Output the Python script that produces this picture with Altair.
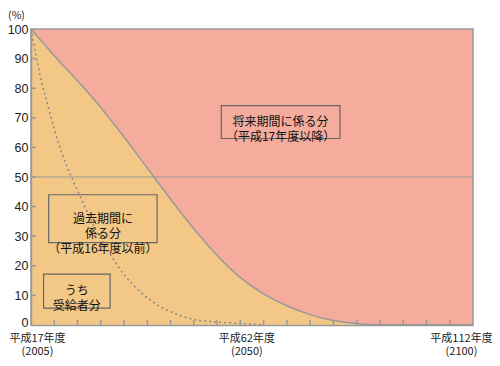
import altair as alt
import pandas as pd

FONT = "Noto Sans CJK JP"
NUMFONT = "Liberation Sans"
PINK = "#F5AC9D"
ORANGE = "#F3C887"
GREY = "#999999"

# total obligation (past-period share boundary), %
total_years = list(range(2005, 2101, 5))
total_vals = [100, 91, 82.5, 73.5, 63.5, 53, 42.5, 32.5, 23.5, 16, 10.5, 6.5, 3.5,
              1.5, 0.5, 0, 0, 0, 0, 0]

# beneficiaries' share (dotted curve)
ben_years = [2005, 2007, 2009, 2011, 2013, 2015, 2017, 2019, 2021, 2023, 2025, 2027,
             2029, 2031, 2033, 2035, 2038, 2041, 2045, 2050, 2055]
ben_vals = [100, 84, 72, 61, 52.5, 45.5, 38.5, 32, 26.5, 21.5, 17, 13.5, 10.5, 8, 6,
            4.5, 2.7, 1.6, 1.0, 0.5, 0.1]

ref_line = [50]
x_minor_ticks = list(range(2010, 2100, 5))
y_ticks = list(range(0, 101, 10))
y_minor_ticks = list(range(10, 100, 10))

label_years = [2005, 2050, 2100]
label_line1 = ["平成17年度", "平成62年度", "平成112年度"]
label_line2 = ["(2005)", "(2050)", "(2100)"]

ann_text = ["将来期間に係る分\n（平成17年度以降）",
            "過去期間に\n係る分\n（平成16年度以前）",
            "うち\n受給者分"]
ann_x1 = [2045.9, 2008.8, 2007.7]
ann_x2 = [2071.4, 2032.1, 2022.0]
ann_y1 = [74.1, 44.0, 17.2]
ann_y2 = [63.0, 27.8, 5.7]

W, H = 442, 296

total_df = pd.DataFrame({"year": total_years, "value": total_vals})
ben_df = pd.DataFrame({"year": ben_years, "value": ben_vals})
ann_df = pd.DataFrame({"text": ann_text, "x1": ann_x1, "x2": ann_x2, "y1": ann_y1, "y2": ann_y2})
ann_df["xm"] = (ann_df.x1 + ann_df.x2) / 2
ann_df["ym"] = (ann_df.y1 + ann_df.y2) / 2

expr = ""
for yv, a, b in zip(label_years, label_line1, label_line2):
    expr += f"datum.value == {yv} ? ['{a}','{b}'] : "
expr += "''"

xs = alt.Scale(domain=[2005, 2100], nice=False, zero=False)
ys = alt.Scale(domain=[0, 100], nice=False)

xaxis = alt.Axis(values=label_years, labelExpr=expr, title=None, grid=False, tickSize=0,
                 domain=True, domainColor=GREY, domainWidth=1.5, labelFont=FONT,
                 labelFontSize=11, labelColor="#222222", labelLineHeight=13, labelPadding=7,
                 labelFlush=False, labelOverlap=False, labelBound=False,
                 labelOffset={"condition": {"test": "datum.value == 2100", "value": -12}, "value": 6},
                 zindex=1)
yaxis = alt.Axis(values=y_ticks, title="(%)", titleAngle=0, titleAlign="center",
                 titleBaseline="middle", titleX=-15, titleY=-14, titleFont=FONT,
                 titleFontSize=10.5, titleFontWeight="normal", titleColor="#222222",
                 grid=False, tickSize=0, domain=True, domainColor=GREY, domainWidth=1.5,
                 labelFont=NUMFONT, labelFontSize=12.5, labelColor="#222222", labelPadding=3,
                 labelOffset={"condition": {"test": "datum.value == 0", "value": -3}, "value": 0},
                 zindex=1)


def X(f):
    return alt.X(f, type="quantitative", scale=xs, axis=xaxis)


def Y(f):
    return alt.Y(f, type="quantitative", scale=ys, axis=yaxis)


area = alt.Chart(total_df).mark_area(color=ORANGE, interpolate="monotone").encode(
    x=X("year"), y=Y("value"))
area_line = alt.Chart(total_df).mark_line(color=GREY, strokeWidth=1.5, interpolate="monotone").encode(
    x=X("year"), y=Y("value"))
dotted = alt.Chart(ben_df).mark_line(color="#888888", strokeWidth=1.5, strokeDash=[2, 3],
                                     interpolate="monotone").encode(x=X("year"), y=Y("value"))
rule50 = alt.Chart(pd.DataFrame({"value": ref_line})).mark_rule(color=GREY, strokeWidth=1).encode(
    y=Y("value"))
xt = alt.Chart(pd.DataFrame({"year": x_minor_ticks})).mark_rule(color=GREY, strokeWidth=1.5).encode(
    x=X("year"), y=alt.value(H), y2=alt.value(H - 5))
yt = alt.Chart(pd.DataFrame({"value": y_minor_ticks})).mark_rule(color=GREY, strokeWidth=1.5).encode(
    y=Y("value"), x=alt.value(0), x2=alt.value(5))
boxes = alt.Chart(ann_df).mark_rect(fill=None, stroke="#666666", strokeWidth=1.2).encode(
    x=X("x1"), x2="x2", y=Y("y1"), y2="y2")
texts = alt.Chart(ann_df).mark_text(font=FONT, fontSize=12, lineHeight=15, lineBreak="\n",
                                    color="#111111", align="center", baseline="middle").encode(
    x=X("xm"), y=Y("ym"), text="text:N")

chart = alt.layer(area, area_line, dotted, rule50, xt, yt, boxes, texts).properties(
    width=W, height=H, autosize=alt.AutoSizeParams(type="none"),
    padding={"left": 23, "top": 21, "right": 19, "bottom": 33},
).configure_view(fill=PINK, stroke=GREY, strokeWidth=1.5)

chart.save("out.html", embed_options={"renderer": "svg", "actions": False})
